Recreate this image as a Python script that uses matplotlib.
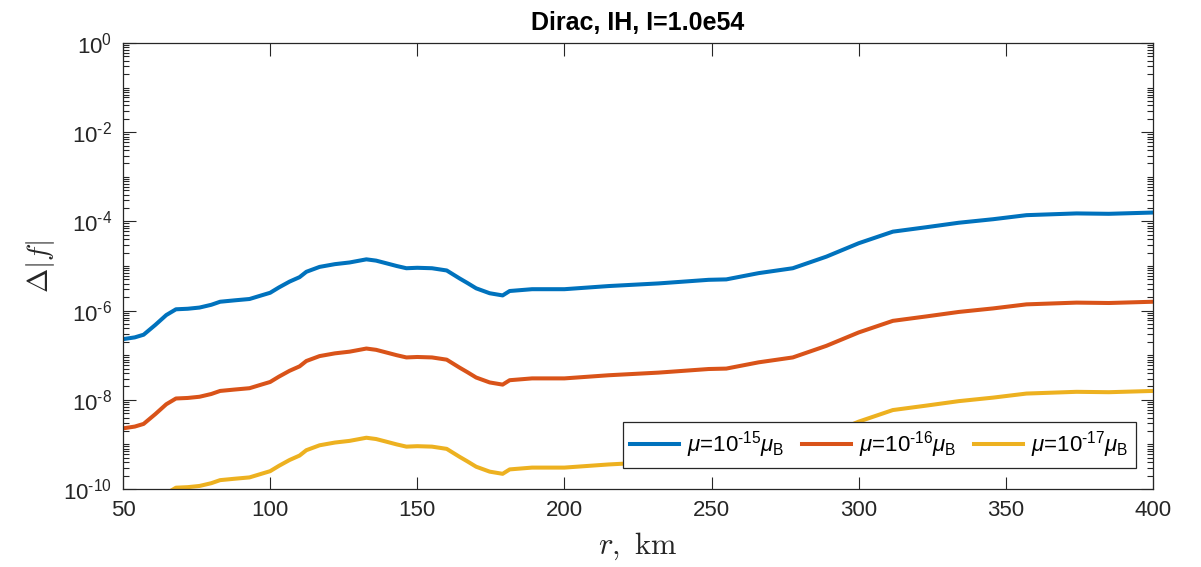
import matplotlib
matplotlib.use("Agg")
import matplotlib.pyplot as plt
from matplotlib.ticker import FixedLocator, LogLocator, FuncFormatter, NullLocator, NullFormatter
import numpy as np

plt.rcParams['font.family'] = ['Liberation Sans', 'DejaVu Sans']
plt.rcParams['mathtext.fontset'] = 'custom'
plt.rcParams['mathtext.rm'] = 'Liberation Sans'
plt.rcParams['mathtext.it'] = 'Liberation Sans:italic'
plt.rcParams['mathtext.bf'] = 'Liberation Sans:bold'
plt.rcParams['axes.unicode_minus'] = False

# ---- data ----
r_km = [50, 54, 57, 61, 64.7, 68, 72, 76, 80, 83, 88, 93, 97, 100, 103, 106.6, 110,
        112.3, 116.8, 122, 127, 132.7, 136, 139.5, 143, 146.3, 150, 155, 160, 164.4,
        167, 170, 174.6, 179, 181.4, 189, 200, 215, 232, 249, 255, 266, 277.6, 289,
        300, 311.6, 323, 334, 345.7, 357, 374, 385, 400]

mu15 = [2.29e-7, 2.51e-7, 2.88e-7, 4.79e-7, 7.94e-7, 1.07e-6, 1.10e-6, 1.17e-6, 1.35e-6,
        1.58e-6, 1.70e-6, 1.82e-6, 2.19e-6, 2.51e-6, 3.31e-6, 4.47e-6, 5.62e-6, 7.41e-6,
        9.55e-6, 1.10e-5, 1.20e-5, 1.41e-5, 1.32e-5, 1.15e-5, 1.00e-5, 8.91e-6, 9.12e-6,
        8.91e-6, 7.94e-6, 5.25e-6, 4.17e-6, 3.16e-6, 2.45e-6, 2.19e-6, 2.75e-6, 3.02e-6,
        3.02e-6, 3.55e-6, 4.07e-6, 4.90e-6, 5.01e-6, 6.92e-6, 8.91e-6, 1.62e-5, 3.24e-5,
        5.89e-5, 7.41e-5, 9.33e-5, 1.12e-4, 1.38e-4, 1.51e-4, 1.48e-4, 1.58e-4]

mu16 = [2.29e-9, 2.51e-9, 2.88e-9, 4.79e-9, 7.94e-9, 1.07e-8, 1.10e-8, 1.17e-8, 1.35e-8,
        1.58e-8, 1.70e-8, 1.82e-8, 2.19e-8, 2.51e-8, 3.31e-8, 4.47e-8, 5.62e-8, 7.41e-8,
        9.55e-8, 1.10e-7, 1.20e-7, 1.41e-7, 1.32e-7, 1.15e-7, 1.00e-7, 8.91e-8, 9.12e-8,
        8.91e-8, 7.94e-8, 5.25e-8, 4.17e-8, 3.16e-8, 2.45e-8, 2.19e-8, 2.75e-8, 3.02e-8,
        3.02e-8, 3.55e-8, 4.07e-8, 4.90e-8, 5.01e-8, 6.92e-8, 8.91e-8, 1.62e-7, 3.24e-7,
        5.89e-7, 7.41e-7, 9.33e-7, 1.12e-6, 1.38e-6, 1.51e-6, 1.48e-6, 1.58e-6]

mu17 = [2.29e-11, 2.51e-11, 2.88e-11, 4.79e-11, 7.94e-11, 1.07e-10, 1.10e-10, 1.17e-10, 1.35e-10,
        1.58e-10, 1.70e-10, 1.82e-10, 2.19e-10, 2.51e-10, 3.31e-10, 4.47e-10, 5.62e-10, 7.41e-10,
        9.55e-10, 1.10e-9, 1.20e-9, 1.41e-9, 1.32e-9, 1.15e-9, 1.00e-9, 8.91e-10, 9.12e-10,
        8.91e-10, 7.94e-10, 5.25e-10, 4.17e-10, 3.16e-10, 2.45e-10, 2.19e-10, 2.75e-10, 3.02e-10,
        3.02e-10, 3.55e-10, 4.07e-10, 4.90e-10, 5.01e-10, 6.92e-10, 8.91e-10, 1.62e-9, 3.24e-9,
        5.89e-9, 7.41e-9, 9.33e-9, 1.12e-8, 1.38e-8, 1.51e-8, 1.48e-8, 1.58e-8]

labels = [r'$\mu$=10$^{\text{-15}}$$\mu_{\mathrm{B}}$',
          r'$\mu$=10$^{\text{-16}}$$\mu_{\mathrm{B}}$',
          r'$\mu$=10$^{\text{-17}}$$\mu_{\mathrm{B}}$']
colors = ['#0072BD', '#D95319', '#EDB120']
title = 'Dirac, IH, I=1.0e54'
xticks = [50, 100, 150, 200, 250, 300, 350, 400]
yticks = [1e-10, 1e-8, 1e-6, 1e-4, 1e-2, 1e0]


def log_label(v, pos):
    e = int(round(np.log10(v)))
    return r'10$^{\text{%d}}$' % e


# ---- figure ----
fig = plt.figure(figsize=(12.01, 5.67), dpi=100)
ax = fig.add_axes([123/1201, 1 - 489/567, 1030/1201, 446/567])

for y, c, lab in zip([mu15, mu16, mu17], colors, labels):
    ax.plot(r_km, y, color=c, lw=2.9, label=lab, solid_joinstyle='round')

ax.set_yscale('log')
ax.set_xlim(50, 400)
ax.set_ylim(1e-10, 1e0)

ax.xaxis.set_major_locator(FixedLocator(xticks))
ax.xaxis.set_minor_locator(NullLocator())
ax.yaxis.set_major_locator(FixedLocator(yticks))
ax.yaxis.set_major_formatter(FuncFormatter(log_label))
ax.yaxis.set_minor_locator(LogLocator(base=10, subs=range(1, 10), numticks=100))
ax.yaxis.set_minor_formatter(NullFormatter())

dark = '#262626'
for s in ax.spines.values():
    s.set_color(dark)
    s.set_linewidth(0.9)
ax.tick_params(which='both', direction='in', top=True, right=True, colors=dark,
               labelcolor=dark, width=0.8)
ax.tick_params(which='major', length=9, labelsize=16, pad=8)
ax.tick_params(which='minor', length=4.5)

ax.set_xlabel(r'$r,\ \mathrm{km}$', fontsize=22, labelpad=7, math_fontfamily='cm', color=dark)
ax.set_ylabel(r'$\Delta|f|$', fontsize=21, labelpad=4, math_fontfamily='cm', color=dark)
ax.set_title(title, fontsize=18, fontweight='bold', pad=9)

leg = ax.legend(loc='lower right', bbox_to_anchor=(0.9835, 0.047), ncol=3,
                borderaxespad=0, fancybox=False, framealpha=1, edgecolor=dark,
                fontsize=16, handlelength=2.2, columnspacing=0.8, handletextpad=0.35,
                borderpad=0.35)
leg.get_frame().set_linewidth(0.9)

fig.savefig('out.png', dpi=100)
